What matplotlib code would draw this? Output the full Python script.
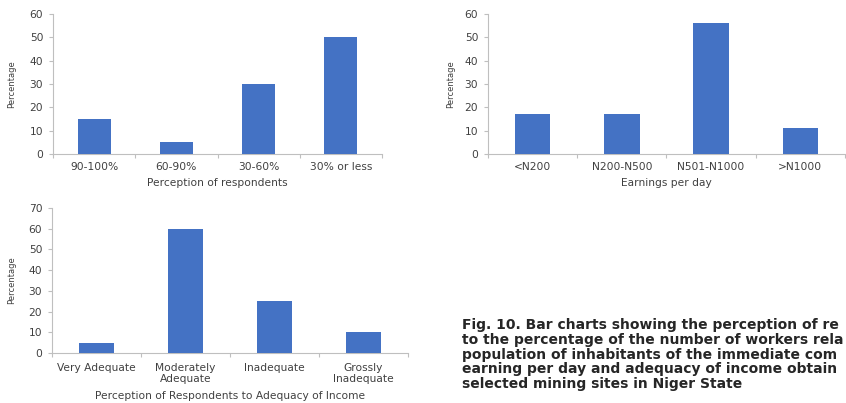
import matplotlib
matplotlib.use("Agg")
import matplotlib.pyplot as plt
import numpy as np

# perception of respondents
perc_cats = ["90-100%", "60-90%", "30-60%", "30% or less"]
perc_vals = [15, 5, 30, 50]

# earnings per day
earn_cats = ["<N200", "N200-N500", "N501-N1000", ">N1000"]
earn_vals = [17, 17, 56, 11]

# adequacy of income
adeq_cats = ["Very Adequate", "Moderately\nAdequate", "Inadequate", "Grossly\nInadequate"]
adeq_vals = [5, 60, 25, 10]

CAPTION = ("Fig. 10. Bar charts showing the perception of re\n"
           "to the percentage of the number of workers rela\n"
           "population of inhabitants of the immediate com\n"
           "earning per day and adequacy of income obtain\n"
           "selected mining sites in Niger State")

BAR = "#4472C4"
AXIS = "#BFBFBF"
TXT = "#404040"
FS = 7.7

plt.rcParams.update({
    "font.family": ["DejaVu Sans"],
    "font.size": FS,
})


def bar_panel(ax, cats, vals, ymax, xlabel):
    x = np.arange(len(cats))
    ax.bar(x, vals, width=0.4, color=BAR, zorder=3)
    ax.set_xlim(-0.5, len(cats) - 0.5)
    ax.set_ylim(0, ymax)
    ax.set_yticks(np.arange(0, ymax + 1, 10))
    ax.set_xticks(x)
    ax.set_xticklabels(cats, color=TXT, fontsize=FS, linespacing=1.15)
    ax.set_xticks(np.arange(-0.5, len(cats)), minor=True)
    ax.tick_params(axis="x", which="major", length=0, pad=6)
    ax.tick_params(axis="x", which="minor", length=3, color=AXIS, width=0.8)
    ax.tick_params(axis="y", length=3, color=AXIS, width=0.8,
                   labelcolor=TXT, labelsize=FS, pad=4)
    for s in ("top", "right"):
        ax.spines[s].set_visible(False)
    for s in ("left", "bottom"):
        ax.spines[s].set_color(AXIS)
        ax.spines[s].set_linewidth(0.8)
    ax.set_xlabel(xlabel, color=TXT, fontsize=FS, labelpad=4)
    ax.set_ylabel("Percentage", color=TXT, fontsize=6.0, labelpad=8)


fig = plt.figure(figsize=(8.46, 4.03), dpi=100)

ax1 = fig.add_axes([0.0626, 0.618, 0.389, 0.347])
bar_panel(ax1, perc_cats, perc_vals, 60, "Perception of respondents")
ax1.yaxis.labelpad = 10

ax2 = fig.add_axes([0.5768, 0.618, 0.422, 0.347])
bar_panel(ax2, earn_cats, earn_vals, 60, "Earnings per day")
ax2.yaxis.labelpad = 7

ax3 = fig.add_axes([0.0615, 0.124, 0.4208, 0.36])
bar_panel(ax3, adeq_cats, adeq_vals, 70,
          "Perception of Respondents to Adequacy of Income")
ax3.yaxis.labelpad = 9
ax3.tick_params(axis="x", which="major", pad=7)
ax3.xaxis.labelpad = 5

fig.text(462 / 846, 1 - 318 / 403, CAPTION, fontsize=10, fontweight="bold",
         family=["DejaVu Sans"], color="#262626",
         va="top", ha="left", linespacing=1.07)

fig.savefig("out.png", dpi=100, facecolor="white")
